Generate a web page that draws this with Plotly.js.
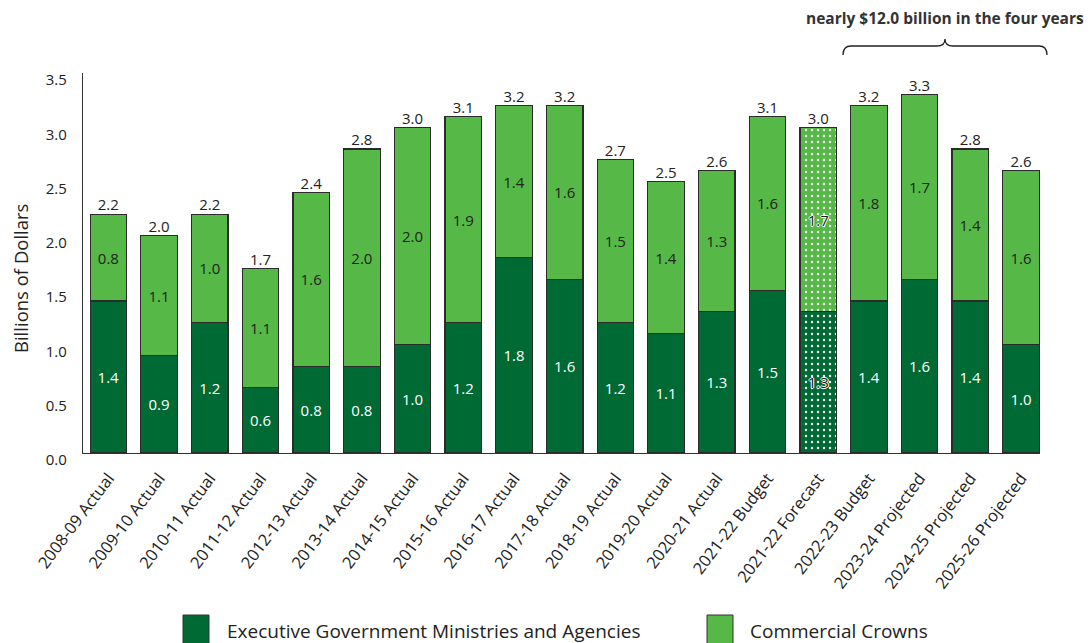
<!DOCTYPE html>
<html>
<head>
<meta charset="utf-8">
<script src="https://cdn.plot.ly/plotly-3.0.1.min.js"></script>
<style>
html,body{margin:0;padding:0;background:#fff;}
#chart{width:1092px;height:643px;}
</style>
</head>
<body>
<div id="chart"></div>
<script>
// ---------- DATA ----------
const categories = [
  '2008-09 Actual','2009-10 Actual','2010-11 Actual','2011-12 Actual','2012-13 Actual',
  '2013-14 Actual','2014-15 Actual','2015-16 Actual','2016-17 Actual','2017-18 Actual',
  '2018-19 Actual','2019-20 Actual','2020-21 Actual','2021-22 Budget','2021-22 Forecast',
  '2022-23 Budget','2023-24 Projected','2024-25 Projected','2025-26 Projected'
];
const executive = [1.4,0.9,1.2,0.6,0.8,0.8,1.0,1.2,1.8,1.6,1.2,1.1,1.3,1.5,1.3,1.4,1.6,1.4,1.0];
const crowns    = [0.8,1.1,1.0,1.1,1.6,2.0,2.0,1.9,1.4,1.6,1.5,1.4,1.3,1.6,1.7,1.8,1.7,1.4,1.6];
const forecastCategory = '2021-22 Forecast';
const yTickVals = [0,0.5,1.0,1.5,2.0,2.5,3.0,3.5];
const seriesNames = ['Executive Government Ministries and Agencies','Commercial Crowns'];
const yTitle = 'Billions of Dollars';
const noteText = 'nearly $12.0 billion in the four years';

// ---------- STYLE ----------
const FONT = 'Open Sans, sans-serif';
const DARK = '#006a35';
const LIGHT = '#56b947';
const OUTLINE = '#2b2b2b';
const TEXT = '#222222';
const HALO = '1px 0 0 #fff, -1px 0 0 #fff, 0 1px 0 #fff, 0 -1px 0 #fff';

// plot-area geometry (px)
const W = 1092, H = 643;
const M = {l:83, r:52, t:73, b:190};
const PW = W - M.l - M.r, PH = H - M.t - M.b;
const px = x => (x - M.l) / PW;
const py = y => (H - M.b - y) / PH;

const isForecast = categories.map(c => c === forecastCategory);
const totals = executive.map((v,i) => v + crowns[i]);
const patterns = isForecast.map(f => f ? '.' : '');
const execTextColors = isForecast.map(f => f ? '#1a1a1a' : '#ffffff');
const textShadows = isForecast.map(f => f ? HALO : 'none');

const patternCfg = bg => ({shape: patterns, fgcolor: '#ffffff', bgcolor: bg, size: 6, solidity: 0.12, fillmode: 'replace'});

const traces = [
  {
    type:'bar', name: seriesNames[0], x: categories, y: executive,
    marker:{color: DARK, line:{color: OUTLINE, width:1.2}, pattern: patternCfg(DARK)},
    text: executive.map(v => v.toFixed(1)), textposition:'inside', insidetextanchor:'middle',
    textangle:0, constraintext:'none',
    textfont:{family:FONT, size:15, color: execTextColors, shadow: textShadows},
    hoverinfo:'skip', showlegend:false
  },
  {
    type:'bar', name: seriesNames[1], x: categories, y: crowns,
    marker:{color: LIGHT, line:{color: OUTLINE, width:1.2}, pattern: patternCfg(LIGHT)},
    text: crowns.map(v => v.toFixed(1)), textposition:'inside', insidetextanchor:'middle',
    textangle:0, constraintext:'none',
    textfont:{family:FONT, size:15, color: TEXT, shadow: textShadows},
    hoverinfo:'skip', showlegend:false
  },
  {
    type:'scatter', mode:'text', x: categories, y: totals,
    text: totals.map(v => v.toFixed(1)), textposition:'top center',
    textfont:{family:FONT, size:15, color: TEXT},
    cliponaxis:false, hoverinfo:'skip', showlegend:false
  }
];

// brace over last four bars
const bx0 = 843, bx1 = 1047, bxc = 945, byArm = 55, byMid = 46, byTop = 39, r = 8;
const bracePath =
  `M ${px(bx0)},${py(byArm)} Q ${px(bx0)},${py(byMid)} ${px(bx0+r)},${py(byMid)} ` +
  `L ${px(bxc-r)},${py(byMid)} Q ${px(bxc)},${py(byMid)} ${px(bxc)},${py(byTop)} ` +
  `Q ${px(bxc)},${py(byMid)} ${px(bxc+r)},${py(byMid)} ` +
  `L ${px(bx1-r)},${py(byMid)} Q ${px(bx1)},${py(byMid)} ${px(bx1)},${py(byArm)}`;

const legendItems = [
  {box:[183,209], textX:225, color:DARK, label:seriesNames[0]},
  {box:[707,733], textX:748, color:LIGHT, label:seriesNames[1]}
];

const shapes = [
  {type:'path', xref:'paper', yref:'paper', path: bracePath, line:{color:'#222', width:1.3}}
];
legendItems.forEach(it => shapes.push({
  type:'rect', xref:'paper', yref:'paper',
  x0:px(it.box[0]), x1:px(it.box[1]), y0:py(650), y1:py(615),
  fillcolor: it.color, line:{color:'#333', width:1}
}));

const annotations = [
  {xref:'paper', yref:'paper', x:px(bxc), y:py(18), text: noteText, showarrow:false,
   xanchor:'center', yanchor:'middle', font:{family:FONT, size:15.5, color:'#333', weight:700}},
  {xref:'paper', yref:'paper', x:px(20), y:py(279), text: yTitle, showarrow:false, textangle:-90,
   xanchor:'center', yanchor:'middle', font:{family:FONT, size:18.5, color:TEXT}}
];
legendItems.forEach(it => annotations.push({
  xref:'paper', yref:'paper', x:px(it.textX), y:py(631), text: it.label, showarrow:false,
  xanchor:'left', yanchor:'middle', font:{family:FONT, size:19, color:TEXT}
}));

const layout = {
  width: W, height: H,
  margin: M,
  paper_bgcolor:'#fff', plot_bgcolor:'#fff',
  barmode:'stack', bargap:0.28,
  font:{family:FONT, color:TEXT},
  xaxis:{
    type:'category', range:[-0.5, 18.375], fixedrange:true,
    showline:true, linecolor:'#333', linewidth:1.2,
    ticks:'', showgrid:false, zeroline:false,
    tickangle:-53, ticklabelstandoff:8,
    tickfont:{family:FONT, size:16.5, color:TEXT}
  },
  yaxis:{
    range:[0,3.5], fixedrange:true,
    tickvals: yTickVals, ticktext: yTickVals.map(v => v.toFixed(1)),
    showline:true, linecolor:'#333', linewidth:1.2,
    ticks:'', showgrid:false, zeroline:false,
    tickfont:{family:FONT, size:15, color:TEXT},
    ticklabelstandoff:12, ticklabelshift:7
  },
  shapes: shapes,
  annotations: annotations,
  showlegend:false
};

Plotly.newPlot('chart', traces, layout, {displayModeBar:false, staticPlot:true});
</script>
</body>
</html>
